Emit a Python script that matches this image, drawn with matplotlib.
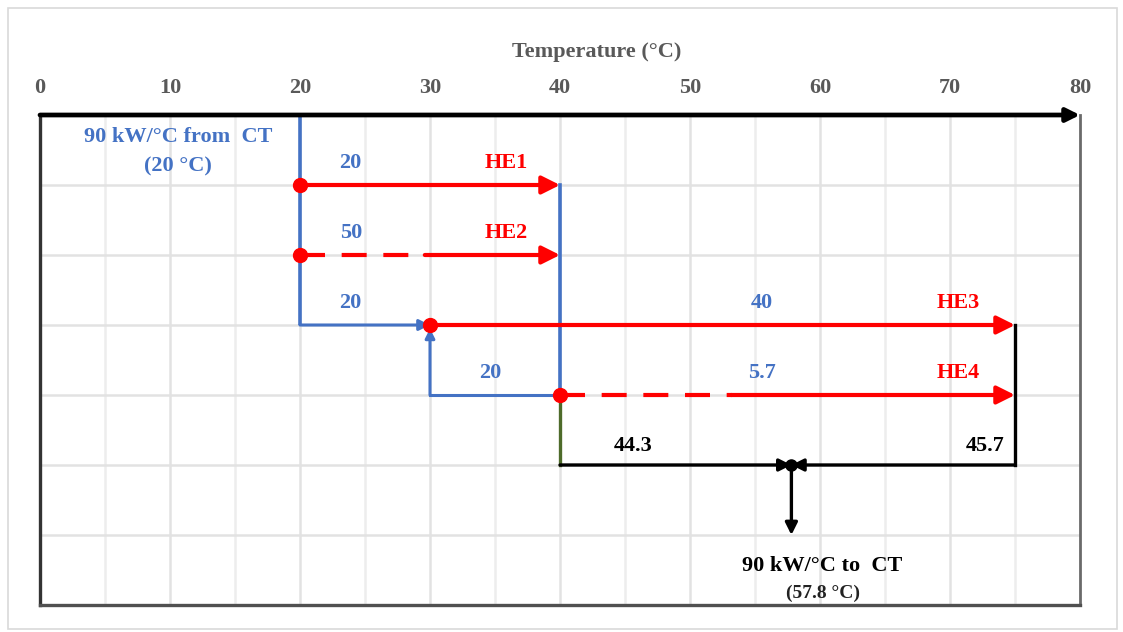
import matplotlib
matplotlib.use("Agg")
import matplotlib.pyplot as plt
from matplotlib.patches import Rectangle

# ---------------- data ----------------
x_ticks = [0, 10, 20, 30, 40, 50, 60, 70, 80]
he_names = ["HE1", "HE2", "HE3", "HE4"]
he_row = [1, 2, 3, 4]
he_start = [20, 20, 30, 40]
he_end = [40, 40, 75, 75]
he_dash_end = [None, 29.6, None, 53.2]   # end of dashed part (bypass), None = fully solid
he_cp = ["20", "50", "40", "5.7"]
he_cp_x = [23.9, 23.9, 55.5, 55.5]
he_name_x = [35.9, 35.9, 70.6, 70.6]

inlet_T = 20
outlet_T = 57.8
mix_cp = ["44.3", "45.7"]
mix_cp_x = [45.6, 72.7]
blue_split_cp = ["20", "20"]
blue_split_x = [23.9, 34.6]
blue_split_row = [3, 4]

# ---------------- figure ----------------
W, H = 1123, 632
fig = plt.figure(figsize=(W / 100, H / 100), dpi=100)
fig.patch.set_facecolor("white")
fig.add_artist(Rectangle((8 / W, 1 - 629 / H), 1109 / W, 621 / H, transform=fig.transFigure,
                         fill=False, edgecolor="#D9D9D9", lw=1.2))

ax = fig.add_axes([40 / W, 1 - 605 / H, 1040 / W, 490 / H])
ax.set_xlim(0, 80)
ax.set_ylim(7, 0)

SERIF = ["Liberation Serif", "DejaVu Serif"]
BLUE = "#4472C4"
RED = "#FF0000"
GRAY_TXT = "#595959"
FS = 16

# grid
for xv in range(5, 80, 5):
    c = "#E2E2E2" if xv % 10 == 0 else "#EDEDED"
    ax.axvline(xv, color=c, lw=1.8, zorder=0)
for yv in range(1, 7):
    ax.axhline(yv, color="#E2E2E2", lw=1.8, zorder=0)

# spines
ax.spines["top"].set_visible(False)
ax.spines["left"].set_color("#333333")
ax.spines["left"].set_linewidth(2.4)
ax.spines["bottom"].set_color("#505050")
ax.spines["bottom"].set_linewidth(2.4)
ax.spines["right"].set_color("#6A6A6A")
ax.spines["right"].set_linewidth(2.0)
# top axis as arrow
ax.annotate("", xy=(80, 0), xytext=(0, 0), annotation_clip=False,
            arrowprops=dict(arrowstyle="-|>", lw=3.4, color="black", mutation_scale=20,
                            shrinkA=0, shrinkB=0), zorder=6)

ax.xaxis.tick_top()
ax.set_xticks(x_ticks)
ax.set_xticklabels([str(t) for t in x_ticks], fontfamily=SERIF, fontweight="bold",
                   fontsize=FS, color=GRAY_TXT)
ax.tick_params(axis="x", length=0, pad=12)
ax.set_yticks([])
ax.text((597 - 40) / 1040, 1 + 58 / 490, "Temperature (°C)", transform=ax.transAxes,
        fontfamily=SERIF, fontweight="bold", fontsize=FS, color=GRAY_TXT,
        ha="center", va="baseline")


def arrow(x0, y0, x1, y1, color, lw=3, ms=18, z=4):
    ax.annotate("", xy=(x1, y1), xytext=(x0, y0),
                arrowprops=dict(arrowstyle="-|>", lw=lw, color=color, mutation_scale=ms,
                                shrinkA=0, shrinkB=0), zorder=z)


def label(x, y, s, color, fs=FS):
    ax.text(x, y, s, color=color, fontfamily=SERIF, fontweight="bold",
            fontsize=fs, ha="center", va="baseline")


# blue cold water main: from top at 20 down to row 3, then to 30
ax.plot([inlet_T, inlet_T], [0, 3], color=BLUE, lw=2.6, zorder=3, solid_capstyle="butt")
arrow(inlet_T, 3, he_start[2], 3, BLUE, lw=2.2, ms=16)
# blue at 40 from row 1 to row 4, then to 30 and up
ax.plot([he_end[0], he_end[0]], [1, 4], color=BLUE, lw=2.6, zorder=3)
ax.plot([he_end[0], he_start[2]], [4, 4], color=BLUE, lw=2.2, zorder=3)
arrow(he_start[2], 4, he_start[2], 3.05, BLUE, lw=2.2, ms=14)

# heat exchangers
for name, r, x0, x1, xd, cp, cpx, nx in zip(he_names, he_row, he_start, he_end, he_dash_end,
                                            he_cp, he_cp_x, he_name_x):
    if xd is None:
        arrow(x0, r, x1, r, RED, lw=3, ms=27, z=5)
    else:
        ax.plot([x0, xd], [r, r], color=RED, lw=3, dashes=(6, 4), zorder=5)
        arrow(xd, r, x1, r, RED, lw=3, ms=27, z=5)
    ax.plot(x0, r, "o", color=RED, ms=10, zorder=6)
    label(cpx, r - 0.25, cp, BLUE)
    label(nx, r - 0.25, name, RED)

for t, xx, rr in zip(blue_split_cp, blue_split_x, blue_split_row):
    label(xx, rr - 0.25, t, BLUE)

# outlet mixing
ax.plot([he_end[2], he_end[2]], [3, 5], color="black", lw=2.4, zorder=3)
ax.plot([he_end[0], he_end[0]], [4, 5], color="#4E6B2A", lw=2.4, zorder=3)
arrow(he_end[0], 5, outlet_T, 5, "black", lw=2.4, ms=18)
arrow(he_end[2], 5, outlet_T, 5, "black", lw=2.4, ms=18)
ax.plot(outlet_T, 5, "o", color="black", ms=8, zorder=6)
arrow(outlet_T, 5, outlet_T, 6.0, "black", lw=2.4, ms=18)
for t, xx in zip(mix_cp, mix_cp_x):
    label(xx, 5 - 0.2, t, "black")

label(10.6, 0.39, "90 kW/°C from  CT", BLUE)
label(10.6, 0.81, f"({inlet_T} °C)", BLUE)
label(60.2, 6.52, "90 kW/°C to  CT", "black")
label(60.2, 6.9, f"({outlet_T} °C)", "#222222", fs=14)

fig.savefig("out.png", dpi=100)
